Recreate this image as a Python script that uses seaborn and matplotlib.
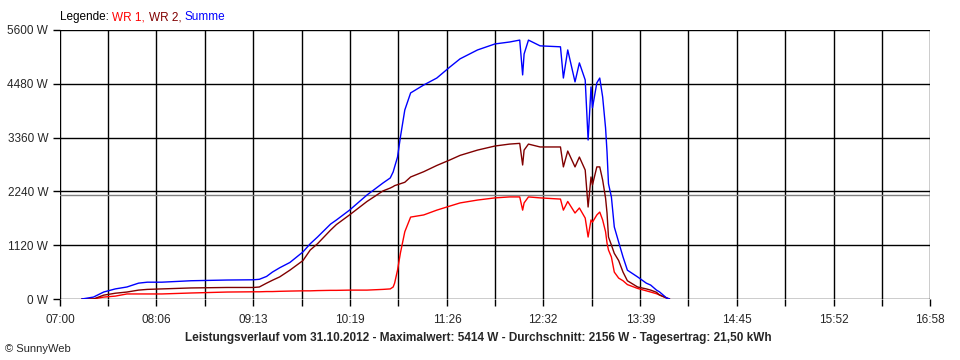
import matplotlib
matplotlib.use("Agg")
import matplotlib.pyplot as plt
import numpy as np
import pandas as pd
import seaborn as sns

# readings taken from the SunnyWeb chart (time of day, watts)
times = [
    "07:15", "07:23", "07:30", "07:38", "07:46", "07:54", "08:00", "08:10",
    "08:30", "08:55", "09:13", "09:17", "09:22", "09:26", "09:31", "09:38",
    "09:47", "09:52", "09:57", "10:06", "10:10", "10:19", "10:31", "10:42",
    "10:47", "10:49", "10:50", "10:52", "10:54", "10:57", "11:01", "11:10",
    "11:19", "11:28", "11:35", "11:47", "11:59", "12:09", "12:16", "12:18",
    "12:19", "12:22", "12:30", "12:44", "12:46", "12:49", "12:54", "12:57",
    "13:01", "13:03", "13:05", "13:06", "13:09", "13:11", "13:13", "13:15",
    "13:16", "13:17", "13:19", "13:21", "13:24", "13:27", "13:30", "13:37",
    "13:43", "13:46", "13:50", "13:52", "13:57", "13:59",
]
wr1 = [
    0, 0, 40, 60, 105, 105, 105, 105,
    125, 145, 150, 150, 155, 155, 160, 165,
    170, 170, 175, 180, 180, 185, 185, 200,
    210, 250, 330, 600, 960, 1400, 1705, 1750,
    1850, 1935, 2000, 2060, 2105, 2125, 2125, 1850,
    2000, 2125, 2105, 2080, 1850, 2030, 1790, 1895,
    1685, 1290, 1645, 1600, 1750, 1810, 1645, 1400,
    1165, 1020, 875, 560, 435, 380, 300, 220,
    170, 145, 110, 85, 20, 0,
]
wr2 = [
    0, 0, 80, 120, 145, 185, 200, 210,
    230, 240, 240, 250, 330, 390, 460, 600,
    800, 1020, 1150, 1435, 1550, 1750, 2030, 2250,
    2310, 2340, 2360, 2380, 2400, 2430, 2540, 2650,
    2780, 2895, 2990, 3100, 3185, 3225, 3240, 2790,
    3100, 3225, 3165, 3165, 2750, 3080, 2750, 2955,
    2685, 1915, 2540, 2375, 2750, 2750, 2475, 2100,
    1790, 1290, 1125, 950, 800, 560, 380, 250,
    210, 185, 140, 85, 20, 0,
]
summe = [
    0, 40, 145, 210, 250, 330, 350, 350,
    380, 395, 400, 410, 470, 560, 650, 760,
    980, 1150, 1290, 1560, 1645, 1850, 2165, 2415,
    2520, 2645, 2750, 2955, 3375, 3935, 4290, 4455,
    4600, 4830, 5000, 5185, 5310, 5350, 5390, 4665,
    5100, 5390, 5270, 5250, 4600, 5185, 4520, 4915,
    4560, 3310, 4415, 3980, 4500, 4600, 4205, 3560,
    3060, 2400, 2125, 1500, 1185, 875, 600, 460,
    330, 290, 185, 150, 20, 0,
]

x_labels = ["07:00", "08:06", "09:13", "10:19", "11:26",
            "12:32", "13:39", "14:45", "15:52", "16:58"]
y_ticks = [0, 1120, 2240, 3360, 4480, 5600]
average = 2156

SERIES = {"WR 1": "#ff0000", "WR 2": "#800000", "Summe": "#0000ff"}


def _minutes(t):
    h, m = t.split(":")
    return (int(h) - 7) * 60 + int(m)


mins = [_minutes(t) for t in times]
df = pd.concat([
    pd.DataFrame({"min": mins, "W": vals, "series": name})
    for name, vals in zip(SERIES, [wr1, wr2, summe])
])

sns.set_style("white")
plt.rcParams["font.family"] = ["Liberation Sans", "DejaVu Sans"]

fig = plt.figure(figsize=(9.6, 3.6), dpi=100)
ax = fig.add_axes([60 / 960, 61 / 360, 870 / 960, 269 / 360])

major = [_minutes(t) for t in x_labels]
minor = [(a + b) / 2 for a, b in zip(major[:-1], major[1:])]

# grid first so curves sit on top
for v in major + minor:
    ax.axvline(v, color="black", lw=1, zorder=1)
for v in y_ticks:
    ax.axhline(v, color="black", lw=1, zorder=1)
ax.axhline(average, color="#808080", lw=1, zorder=1)

for name in ["WR 1", "WR 2", "Summe"]:
    sns.lineplot(data=df[df.series == name], x="min", y="W",
                 color=SERIES[name], lw=1, ax=ax, legend=False, zorder=3)

ax.set_xlim(major[0], major[-1])
ax.set_ylim(0, 5600)
ax.set_xticks(major)
ax.set_xticklabels(x_labels, fontsize=8.5)
ax.set_xticks(minor, minor=True)
ax.set_yticks(y_ticks)
ax.set_yticklabels([f"{v} W" for v in y_ticks], fontsize=8.5)
ax.tick_params(axis="both", which="both", direction="out", length=5,
               width=1, color="black", bottom=True, left=True)
ax.tick_params(axis="x", pad=6)
ax.set_xlabel("")
ax.set_ylabel("")
for s in ax.spines.values():
    s.set_visible(False)

# coloured legend line at the top, each piece chained after the previous
prev = fig.text(60 / 960, 1 - 17 / 360, "Legende:", color="black",
                fontsize=8.5, va="center", ha="left")
for txt, col in [("WR 1,", SERIES["WR 1"]), ("WR 2,", SERIES["WR 2"]),
                 ("Summe", SERIES["Summe"])]:
    prev = ax.annotate(txt, xy=(1, 0.5), xycoords=prev, xytext=(2.5, 0),
                       textcoords="offset points", color=col, fontsize=8.5,
                       va="center", ha="left", annotation_clip=False)

fig.text(478 / 960, 1 - 338 / 360,
         "Leistungsverlauf vom 31.10.2012 - Maximalwert: 5414 W - "
         "Durchschnitt: 2156 W - Tagesertrag: 21,50 kWh",
         fontsize=8.5, fontweight="bold", ha="center", va="center")
fig.text(5 / 960, 1 - 349 / 360, "© SunnyWeb", fontsize=8, ha="left", va="center")

fig.savefig("out.png", dpi=100, facecolor="white")
